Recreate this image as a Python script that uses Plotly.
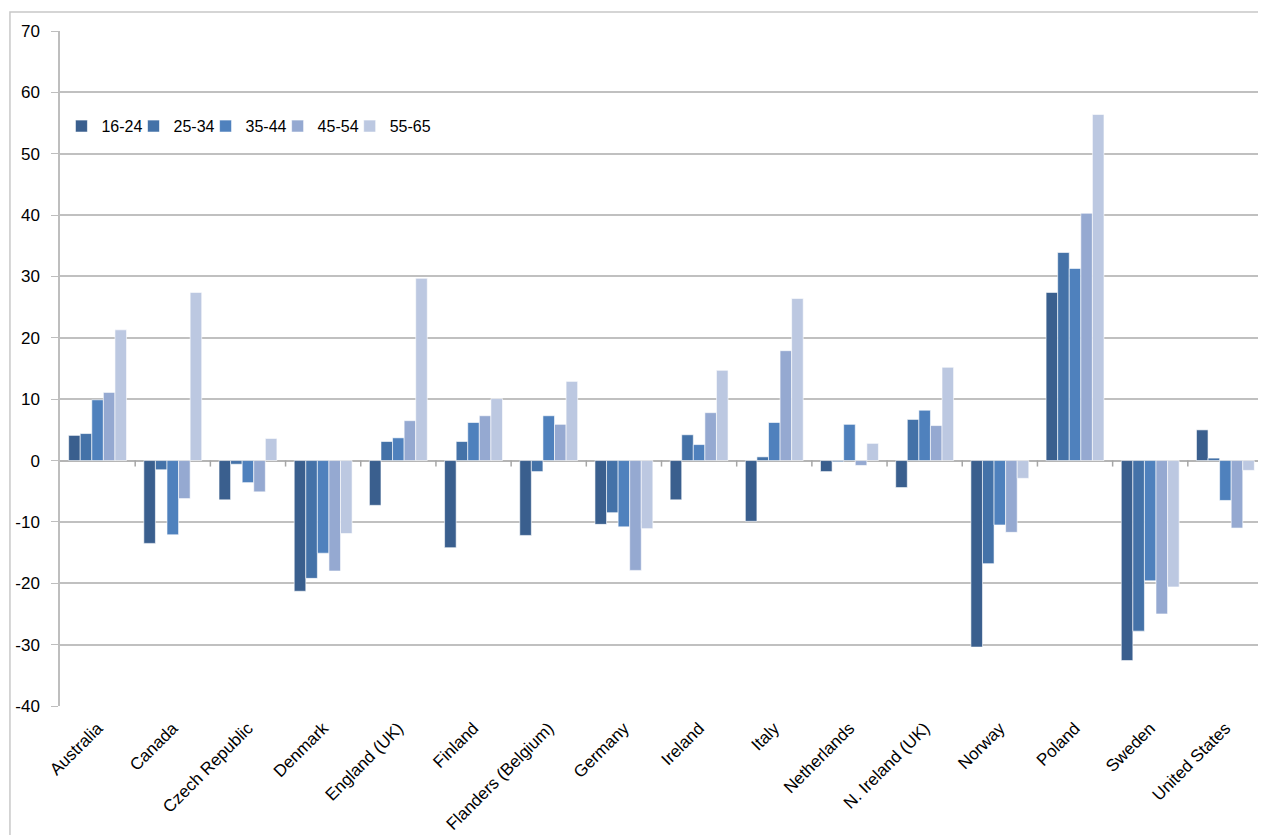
import plotly.graph_objects as go

countries = ["Australia", "Canada", "Czech Republic", "Denmark", "England (UK)", "Finland",
             "Flanders (Belgium)", "Germany", "Ireland", "Italy", "Netherlands",
             "N. Ireland (UK)", "Norway", "Poland", "Sweden", "United States"]

age_16_24 = [4.1, -13.5, -6.4, -21.3, -7.3, -14.2, -12.2, -10.4, -6.4, -9.9, -1.8, -4.4, -30.4, 27.4, -32.6, 5.0]
age_25_34 = [4.4, -1.5, -0.6, -19.2, 3.1, 3.1, -1.8, -8.5, 4.2, 0.6, -0.2, 6.7, -16.8, 33.9, -27.8, 0.4]
age_35_44 = [9.9, -12.1, -3.6, -15.1, 3.7, 6.2, 7.3, -10.8, 2.6, 6.2, 5.9, 8.2, -10.5, 31.3, -19.6, -6.5]
age_45_54 = [11.1, -6.2, -5.1, -18.0, 6.5, 7.3, 5.9, -17.9, 7.8, 17.9, -0.8, 5.7, -11.7, 40.3, -25.0, -11.0]
age_55_65 = [21.3, 27.4, 3.6, -11.9, 29.7, 10.1, 12.9, -11.1, 14.7, 26.4, 2.8, 15.2, -2.9, 56.4, -20.6, -1.6]

y_tick_vals = [-40, -30, -20, -10, 0, 10, 20, 30, 40, 50, 60, 70]
y_tick_labels = ["-40", "-30", "-20", "-10", "0", "10", "20", "30", "40", "50", "60", "70"]

series = [("16-24", age_16_24, "#3A5F8E"),
          ("25-34", age_25_34, "#4472A8"),
          ("35-44", age_35_44, "#4F81BD"),
          ("45-54", age_45_54, "#95A9D1"),
          ("55-65", age_55_65, "#BCC8E1")]

FONT = "Liberation Sans, Arial, sans-serif"

fig = go.Figure()
legend_layouts = {}
for k, (name, vals, col) in enumerate(series):
    lname = "legend" if k == 0 else f"legend{k + 1}"
    fig.add_trace(go.Bar(x=countries, y=vals, name=name, marker_color=col,
                         marker_line_color="white", marker_line_width=0.6, legend=lname))
    legend_layouts[lname] = dict(x=0.0012 + k * 0.0599, y=0.859, xanchor="left", yanchor="middle",
                                 font=dict(size=16, family=FONT), bgcolor="rgba(0,0,0,0)",
                                 itemwidth=30, orientation="h")

# small tick marks on the zero line between categories
for i in range(len(countries) - 1):
    fig.add_shape(type="line", xref="x", yref="y", x0=i + 0.5, x1=i + 0.5,
                  ysizemode="pixel", yanchor=0, y0=0, y1=-6,
                  line=dict(color="#A6A6A6", width=1.5))

# outer frame
fig.add_shape(type="rect", xref="paper", yref="paper",
              x0=-0.0416, x1=1.02, y0=-0.25, y1=1.0281,
              line=dict(color="#C8C8C8", width=1.5), fillcolor="rgba(0,0,0,0)", layer="below")

fig.update_layout(
    width=1258, height=827,
    margin=dict(l=52, r=3, t=23, b=129, autoexpand=False),
    plot_bgcolor="white", paper_bgcolor="white",
    barmode="group", bargap=0.23, bargroupgap=0,
    font=dict(family=FONT, color="black"),
    showlegend=True,
    **legend_layouts,
)
fig.update_yaxes(range=[-40, 70], tickmode="array", tickvals=y_tick_vals, ticktext=y_tick_labels,
                 showgrid=True, gridcolor="#C0C0C0", gridwidth=1.5,
                 zeroline=True, zerolinecolor="#B4B4B4", zerolinewidth=1.5,
                 showline=True, linecolor="#BEBEBE", linewidth=1.5,
                 ticks="outside", ticklen=7, tickcolor="#BEBEBE", ticklabelstandoff=8,
                 tickfont=dict(size=17), fixedrange=True, automargin=False)
fig.update_xaxes(tickangle=-45, tickfont=dict(size=17), showgrid=False, showline=False,
                 ticks="", ticklabelstandoff=8, fixedrange=True, automargin=False)

fig.write_html("out.html")
